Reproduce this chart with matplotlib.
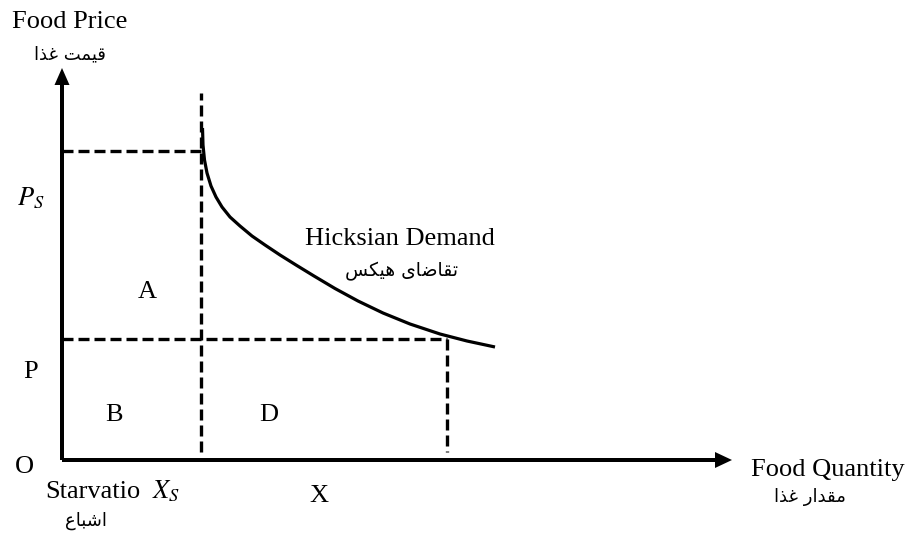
import matplotlib
matplotlib.use("Agg")
import matplotlib.pyplot as plt

# ---- data (diagram units: origin at O, 1 unit = 1 px) ----
x_starv = 139          # X_S
x_q = 385              # X
p_s = 309              # P_S
p_low = 121            # P
xs_line_top = 367
dash_bottom = 8
y_axis_top = 392
x_axis_right = 670

# Hicksian demand curve
curve_q = [140.5, 141, 142.5, 145, 149, 154, 160, 168, 178, 190, 203, 218, 234,
           252, 273, 296, 321, 348, 378, 405, 433]
curve_p = [332, 315, 300, 287, 274, 263, 253, 243, 234, 224, 215, 205, 195,
           184, 171.5, 159, 147, 136, 126, 119, 113]

# Persian labels, written in presentation forms in visual (left-to-right) order
fa_price = "\uFE8D\uFEAC\uFECF \uFE96\uFEE4\uFBFF\uFED7"            # قیمت غذا
fa_hicks = "\uFEB2\uFB91\uFBFF\uFEEB \uFBFC\uFE8E\uFEBF\uFE8E\uFED8\uFE97"  # تقاضای هیکس
fa_satur = "\uFEC9\uFE8E\uFE92\uFEB7\uFE8D"                         # اشباع
fa_qty = "\uFE8D\uFEAC\uFECF \uFEAD\uFE8D\uFEAA\uFED8\uFEE3"         # مقدار غذا

W, H = 913, 536
OX, OY = 62, 460

plt.rcParams['mathtext.fontset'] = 'stix'
fig = plt.figure(figsize=(W / 100, H / 100), dpi=100)
ax = fig.add_axes([0, 0, 1, 1])
ax.set_xlim(-OX, W - OX)
ax.set_ylim(-(H - OY), OY)
ax.axis('off')

lw_axis = 4.0  # px
ax.arrow(0, 0, 0, y_axis_top, width=lw_axis, head_width=15, head_length=17,
         length_includes_head=True, color='black', lw=0)
ax.arrow(0, 0, x_axis_right, 0, width=lw_axis, head_width=16, head_length=17,
         length_includes_head=True, color='black', lw=0)

dash_kw = dict(color='black', lw=2.4, dashes=(3.3, 1.5), dash_capstyle='butt')
ax.plot([x_starv, x_starv], [dash_bottom, xs_line_top], **dash_kw)
ax.plot([0, x_starv], [p_s, p_s], **dash_kw)
ax.plot([0, x_q], [p_low, p_low], **dash_kw)
ax.plot([x_q, x_q], [p_low, dash_bottom], **dash_kw)

ax.plot(curve_q, curve_p, color='black', lw=2.3, solid_joinstyle='round',
        solid_capstyle='butt')

serif = 'Liberation Serif'
fs = 19


def T(x, y, s, ha='center', va='baseline', family=serif, size=fs, **kw):
    fig.text(x / W, 1 - y / H, s, ha=ha, va=va, family=family, size=size, **kw)


fa_family = ['DejaVu Sans']
T(70, 28, "Food Price")
T(70, 54, fa_price, va='center', family=fa_family, size=13)
T(17, 205, r"$P_S$", ha='left', size=fs)
T(147, 298, "A")
T(31, 378, "P")
T(114, 421, "B")
T(269, 421, "D")
T(24, 473, "O")
T(45, 498, "Starvatio", ha='left')
T(152, 498, r"$X_S$", ha='left', size=fs)
T(86, 521, fa_satur, va='center', family=fa_family, size=13)
T(319, 502, "X")
T(400, 245, "Hicksian Demand")
T(401, 271, fa_hicks, va='center', family=fa_family, size=13.5)
T(828, 476, "Food Quantity")
T(810, 497, fa_qty, va='center', family=fa_family, size=13)

fig.savefig("out.png", dpi=100)
